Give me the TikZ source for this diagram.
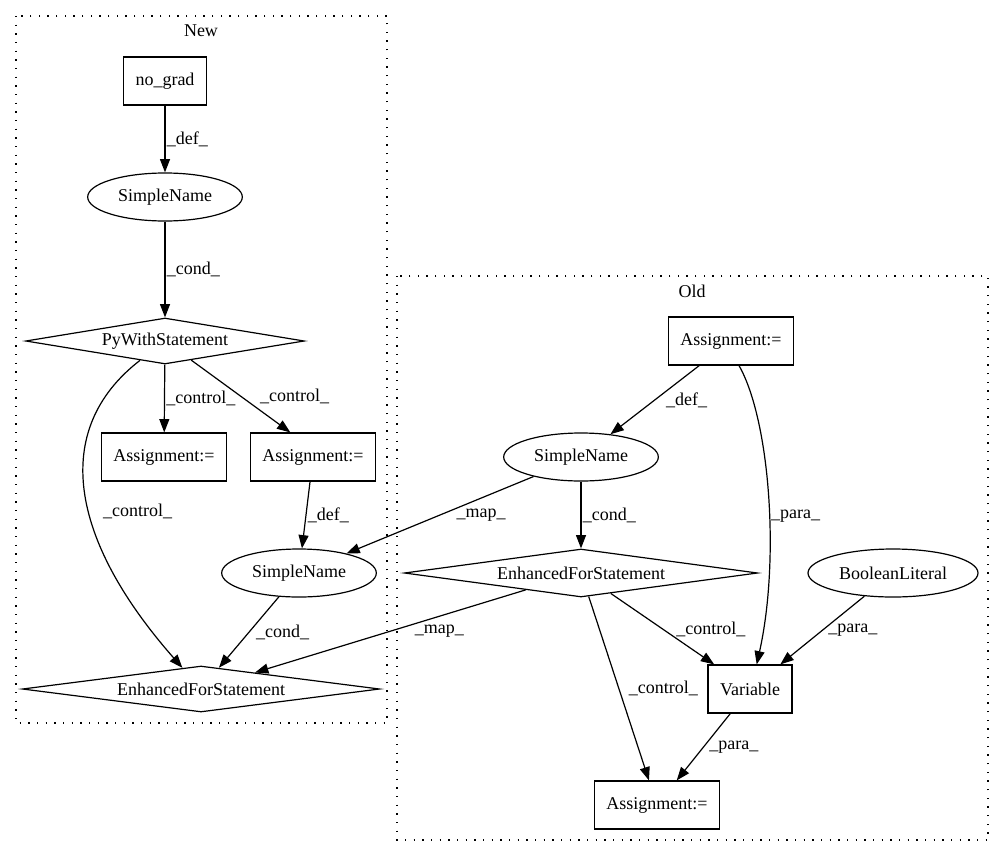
\documentclass[tikz,border=0pt]{standalone}
\usepackage{fontspec}
\setmainfont{Liberation Serif}
\usetikzlibrary{arrows.meta}
\usetikzlibrary{shapes.geometric}

\begin{document}
\begin{tikzpicture}[x=0.75pt,y=-0.75pt,font=\fontsize{13.5}{16}\selectfont]
		\tikzset{box/.style = {shape=rectangle,draw,line width=0.9pt,minimum width=60pt,minimum height=36pt,inner xsep=9pt}}
		\tikzset{oval/.style = {shape=ellipse,draw,line width=0.9pt,minimum width=116pt,minimum height=36pt,inner sep=0pt}}
		\tikzset{cond/.style = {shape=diamond,draw,line width=0.9pt,aspect=8,inner sep=0pt,minimum height=34.5pt}}
		\tikzset{flow/.style = {-{Triangle[length=10pt,width=7.5pt]},line width=0.9pt}}
		\tikzset{elabel/.style = {anchor=west,inner sep=1pt}}
		\tikzset{cluster/.style = {line width=0.9pt,dash pattern=on 1pt off 5.5pt}}
		\useasboundingbox (0,0) rectangle (1005,856);
		% clusters
		\draw[cluster] (16,16) rectangle (387,723);
		\node (newlbl) at (201,31) {New};
		\draw[cluster] (397,276) rectangle (988,840);
		\node (oldlbl) at (692,291) {Old};
		% New
		\node[box] (a) at (165,81) {no\_grad};
		\node[oval] (b) at (165,197) {SimpleName};
		\node[cond,minimum width=209pt] (c) at (165,341) {PyWithStatement};
		\node[box] (d) at (164,457) {Assignment:=};
		\node[box] (e) at (313,457) {Assignment:=};
		\node[oval] (f) at (299,573) {SimpleName};
		\node[cond,minimum width=268pt] (h) at (201,689) {EnhancedForStatement};
		% Old
		\node[box] (i) at (731,341) {Assignment:=};
		\node[oval] (j) at (581,457) {SimpleName};
		\node[cond,minimum width=265pt,minimum height=36pt] (k) at (581,573) {EnhancedForStatement};
		\node[oval,minimum width=127.5pt] (l) at (893,573) {BooleanLiteral};
		\node[box] (m) at (750,689) {Variable};
		\node[box] (n) at (657,805) {Assignment:=};
		% edges
		\draw[flow] (a) -- (b) node[elabel,midway] {\_def\_};
		\draw[flow] (b) -- (c) node[elabel,midway] {\_cond\_};
		\draw[flow] (c) -- (d) node[elabel,midway] {\_control\_};
		\draw[flow] (c) -- ([xshift=-17pt]e.north) node[elabel,midway,xshift=13pt] {\_control\_};
		\draw[flow] (c) .. controls (50,430) and (70,540) .. (h) node[elabel,pos=0.56,xshift=9pt] {\_control\_};
		\draw[flow] (e) -- (f) node[elabel,midway] {\_def\_};
		\draw[flow] (f) -- (h) node[elabel,midway,xshift=4pt] {\_cond\_};
		\draw[flow] (i) -- (j) node[elabel,midway,xshift=7pt] {\_def\_};
		\draw[flow] ([xshift=6pt]i.south) .. controls (770,420) and (780,560) .. ([xshift=5pt]m.north) node[elabel,pos=0.56] {\_para\_};
		\draw[flow] (j) -- (k) node[elabel,midway] {\_cond\_};
		\draw[flow] (j) -- (f) node[elabel,midway,xshift=11pt] {\_map\_};
		\draw[flow] (k) -- (h) node[elabel,midway,xshift=17pt] {\_map\_};
		\draw[flow] (k) -- (m) node[elabel,midway,xshift=9pt] {\_control\_};
		\draw[flow] (l) -- (m) node[elabel,midway,xshift=3pt] {\_para\_};
		\draw[flow] (k) -- (n) node[elabel,midway,xshift=6pt] {\_control\_};
		\draw[flow] (m) -- (n) node[elabel,midway,xshift=3pt] {\_para\_};
\end{tikzpicture}
\end{document}
